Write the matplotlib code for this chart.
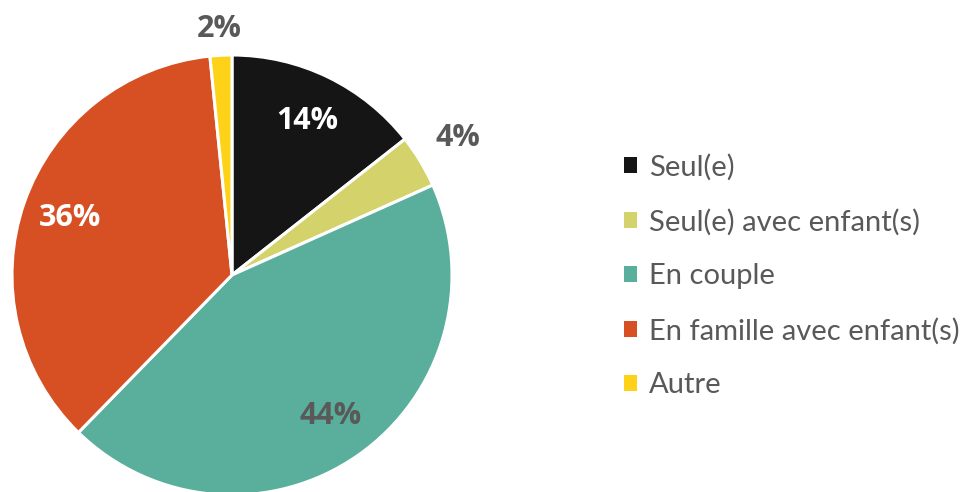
import matplotlib.pyplot as plt
from matplotlib.patches import Patch
import numpy as np

plt.rcParams['font.family'] = ['Lato', 'DejaVu Sans']

categories = ["Seul(e)", "Seul(e) avec enfant(s)", "En couple",
              "En famille avec enfant(s)", "Autre"]
shares = [14.4, 3.9, 44.0, 36.1, 1.6]
labels = ["14%", "4%", "44%", "36%", "2%"]
colors = ["#151515", "#d4d36b", "#5aae9c", "#d75024", "#ffd21a"]
label_colors = ["white", "#595959", "#595959", "white", "#595959"]
label_radius = [0.78, 1.2, 0.78, 0.78, 1.12]

fig = plt.figure(figsize=(9.71, 4.92), dpi=100)
ax = fig.add_axes([12 / 971, -3 / 492, 440 / 971, 440 / 492])

wedges, _ = ax.pie(shares, colors=colors, startangle=90, counterclock=False,
                   radius=1.0,
                   wedgeprops=dict(edgecolor="white", linewidth=2.2))
ax.set_xlim(-1, 1)
ax.set_ylim(-1, 1)
ax.set_aspect("equal")
ax.axis("off")

for w, lab, col, r in zip(wedges, labels, label_colors, label_radius):
    mid = np.deg2rad((w.theta1 + w.theta2) / 2)
    ax.text(r * np.cos(mid), r * np.sin(mid), lab, color=col,
            fontsize=22, fontweight="bold", family=["Open Sans", "DejaVu Sans"],
            ha="center", va="center")

handles = [Patch(facecolor=c, edgecolor="none") for c in colors]
fig.legend(handles, categories, loc="center left",
           bbox_to_anchor=(598 / 971, (492 - 276) / 492),
           frameon=False, fontsize=21, labelcolor="#595959",
           handlelength=0.45, handleheight=0.45, handletextpad=0.4,
           labelspacing=0.96)

fig.savefig("out.png", dpi=100)
